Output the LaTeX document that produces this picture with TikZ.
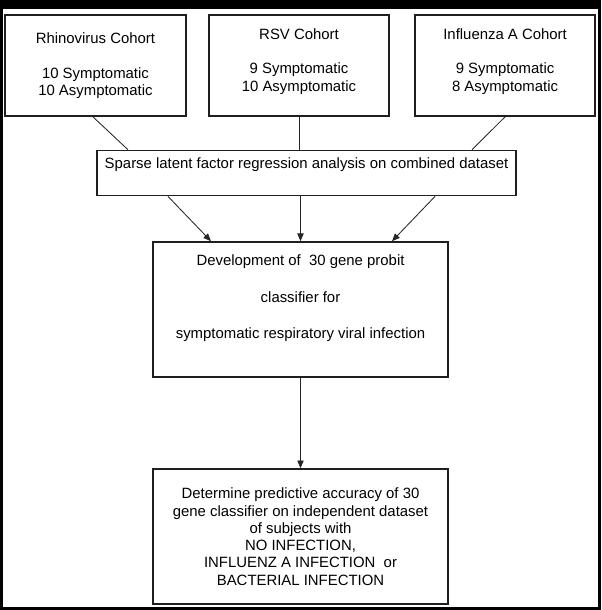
\documentclass[tikz,border=0pt]{standalone}
\usepackage{fontspec}
\setmainfont{Liberation Sans}
\usetikzlibrary{positioning, arrows.meta}

\begin{document}
\begin{tikzpicture} [x=0.025cm, y=-0.025cm, on grid,
  box/.style = {draw=black!88, line width=1.2pt, align=center, inner sep=0pt,
                font=\fontsize{10.6}{12.3}\selectfont},
  cohort/.style = {box, minimum width=4.5cm, minimum height=2.525cm},
  link/.style = {draw=black!85, line width=0.6pt},
  arr/.style = {link, -{Triangle[length=5.5pt, width=4.5pt]}}]
% frame
\fill[black] (0,0) rectangle (601,610);
\fill[white] (3,9) rectangle (598,607);

\node[cohort] (rsv) at (299,65.5) {RSV Cohort\\[12.3pt]9 Symptomatic\\10 Asymptomatic\\[-4pt]\mbox{}};
\node[cohort, minimum width=4.525cm] (rhino) [left = 5.0875cm of rsv] {Rhinovirus Cohort\\[12.3pt]10 Symptomatic\\10 Asymptomatic};
\node[cohort] (flu) [right = 5.15cm of rsv] {Influenza A Cohort\\[12.3pt]9 Symptomatic\\8 Asymptomatic\\[-4pt]\mbox{}};
\node[box, minimum width=10.475cm, minimum height=1.125cm] (sparse) [below = 2.6875cm of rsv, xshift=0.1875cm] {Sparse latent factor regression analysis on combined dataset\\[2pt]\mbox{}};
\node[box, minimum width=7.375cm, minimum height=3.375cm] (dev) [below = 3.4125cm of sparse, xshift=-0.15cm] {Development of\ \ 30 gene probit\\[13.7pt]classifier for\\[13.7pt]symptomatic respiratory viral infection\\[6pt]\mbox{}};
\node[box, minimum width=7.375cm, minimum height=3.375cm] (det) [below = 5.675cm of dev] {Determine predictive accuracy of 30\\gene classifier on independent dataset\\of subjects with\\NO INFECTION,\\INFLUENZ A INFECTION\ \ or\\BACTERIAL INFECTION};

\path[link] ([xshift=-0.0625cm]rhino.south) -- ([xshift=-4.4625cm]sparse.north);
\path[link] (rsv.south) -- (rsv.south |- sparse.north);
\path[link] (flu.south) -- ([xshift=4.1375cm]sparse.north);

\path[arr] ([xshift=-3.4625cm]sparse.south) -- ([xshift=-2.2375cm]dev.north);
\path[arr] (dev.north |- sparse.south) -- (dev.north);
\path[arr] ([xshift=3.2125cm]sparse.south) -- ([xshift=2.2875cm]dev.north);
\path[arr] (dev.south) -- (det.north);

\end{tikzpicture}
\end{document}
